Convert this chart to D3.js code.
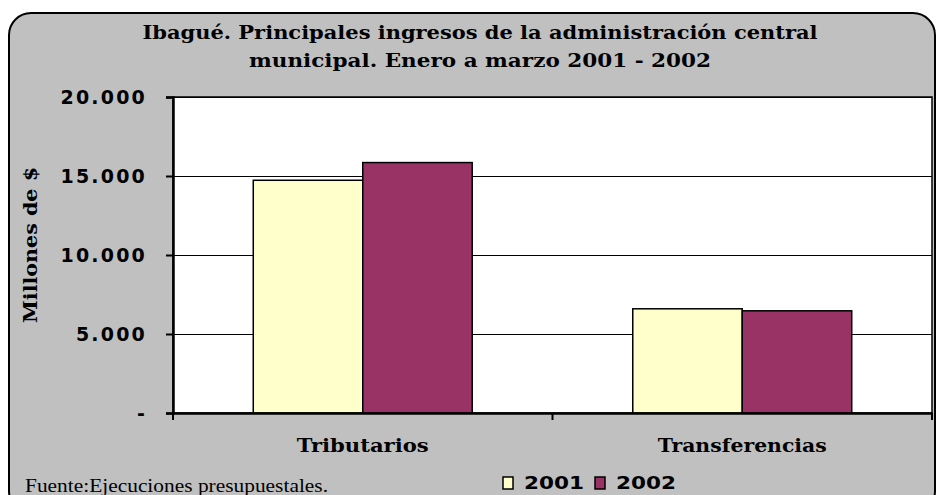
<!DOCTYPE html>
<html>
<head>
<meta charset="utf-8">
<script src="https://cdn.jsdelivr.net/npm/d3@7"></script>
<style>
  body { margin: 0; background: #fff; }
  svg { display: block; }
</style>
</head>
<body>
<div class="svg-container"></div>
<script>
// data
const categories = ["Tributarios", "Transferencias"];
const years = ["2001", "2002"];
const values2001 = [14730, 6595];
const values2002 = [15850, 6468];
const yTicks = [0, 5000, 10000, 15000, 20000];
const yTickLabels = ["-", "5.000", "10.000", "15.000", "20.000"];
const titleLines = ["Ibagué. Principales ingresos de la administración central",
                    "municipal. Enero a marzo 2001 - 2002"];
const yLabel = "Millones de $";
const sourceText = "Fuente:Ejecuciones presupuestales.";

const colors = {"2001": "#FFFFCC", "2002": "#993366"};
const w = 936, h = 495;
const plot = {left: 173, right: 932, top: 97, bottom: 413};

const svg = d3.select(".svg-container")
  .append("svg")
  .attr("width", w)
  .attr("height", h);

// chart background with rounded frame
svg.append("rect")
  .attr("x", 9).attr("y", 13)
  .attr("width", 926).attr("height", 500)
  .attr("rx", 22).attr("ry", 22)
  .attr("fill", "#c0c0c0")
  .attr("stroke", "#000")
  .attr("stroke-width", 2);

// scales
const yScale = d3.scaleLinear()
  .domain([0, 20000])
  .range([plot.bottom, plot.top]);

const x0 = d3.scaleBand()
  .domain(categories)
  .range([plot.left, plot.right])
  .padding(0);

const groupOffset = x0.bandwidth() * 0.2115;
const x1 = d3.scaleBand()
  .domain(years)
  .range([0, x0.bandwidth() * 0.577]);

// plot area
svg.append("rect")
  .attr("x", plot.left).attr("y", plot.top)
  .attr("width", plot.right - plot.left)
  .attr("height", plot.bottom - plot.top)
  .attr("fill", "#fff")
  .attr("stroke", "#000")
  .attr("stroke-width", 1.5);

// gridlines
svg.append("g")
  .selectAll("line")
  .data(yTicks.filter(d => d > 0))
  .enter()
  .append("line")
  .attr("x1", plot.left).attr("x2", plot.right)
  .attr("y1", d => Math.round(yScale(d)) + 0.5)
  .attr("y2", d => Math.round(yScale(d)) + 0.5)
  .attr("stroke", "#000")
  .attr("stroke-width", 1);

// bars
const rows = categories.map((c, i) => ({cat: c, vals: [
  {year: "2001", v: values2001[i]},
  {year: "2002", v: values2002[i]}
]}));

svg.append("g")
  .selectAll("g")
  .data(rows)
  .enter()
  .append("g")
  .attr("transform", d => "translate(" + (x0(d.cat) + groupOffset) + ",0)")
  .selectAll("rect")
  .data(d => d.vals)
  .enter()
  .append("rect")
  .attr("x", d => x1(d.year))
  .attr("y", d => yScale(d.v))
  .attr("width", x1.bandwidth())
  .attr("height", d => yScale(0) - yScale(d.v))
  .attr("fill", d => colors[d.year])
  .attr("stroke", "#000")
  .attr("stroke-width", 1.5);

// y axis
const yAxis = d3.axisLeft(yScale)
  .tickValues(yTicks)
  .tickFormat((d, i) => yTickLabels[i])
  .tickSize(7)
  .tickPadding(19);

const gy = svg.append("g")
  .attr("transform", "translate(" + plot.left + ",0)")
  .call(yAxis);
gy.select(".domain").attr("stroke", "#000").attr("stroke-width", 2.5);
gy.selectAll(".tick line").attr("stroke", "#000").attr("stroke-width", 2);
gy.selectAll(".tick text")
  .attr("fill", "#000")
  .attr("dy", "0.36em")
  .style("font-family", "'DejaVu Sans', sans-serif")
  .style("font-weight", "bold")
  .style("font-size", "19px")
  .style("letter-spacing", "2.2px");

// x axis
const xAxis = d3.axisBottom(x0).tickSize(0).tickFormat("");
const gx = svg.append("g")
  .attr("transform", "translate(0," + plot.bottom + ")")
  .call(xAxis);
gx.select(".domain").attr("stroke", "#000").attr("stroke-width", 2.5);

// category boundary ticks
gx.selectAll("line.cat-tick")
  .data([plot.left, x0(categories[1]), plot.right])
  .enter()
  .append("line")
  .attr("class", "cat-tick")
  .attr("x1", d => d).attr("x2", d => d)
  .attr("y1", 0).attr("y2", 7)
  .attr("stroke", "#000")
  .attr("stroke-width", 2);

const catWidths = [132, 169];
svg.append("g")
  .selectAll("text")
  .data(categories)
  .enter()
  .append("text")
  .attr("x", d => x0(d) + x0.bandwidth() / 2)
  .attr("y", 452)
  .attr("text-anchor", "middle")
  .attr("textLength", (d, i) => catWidths[i])
  .attr("lengthAdjust", "spacingAndGlyphs")
  .style("font-family", "'DejaVu Serif', serif")
  .style("font-weight", "bold")
  .style("font-size", "19px")
  .text(d => d);

// title
const titleWidths = [675, 462];
svg.append("g")
  .selectAll("text")
  .data(titleLines)
  .enter()
  .append("text")
  .attr("x", 480)
  .attr("y", (d, i) => 39 + i * 28)
  .attr("text-anchor", "middle")
  .attr("textLength", (d, i) => titleWidths[i])
  .attr("lengthAdjust", "spacingAndGlyphs")
  .style("font-family", "'DejaVu Serif', serif")
  .style("font-weight", "bold")
  .style("font-size", "19px")
  .text(d => d);

// y label
svg.append("text")
  .attr("transform", "translate(37,245) rotate(-90)")
  .attr("text-anchor", "middle")
  .attr("textLength", 156)
  .attr("lengthAdjust", "spacingAndGlyphs")
  .style("font-family", "'DejaVu Serif', serif")
  .style("font-weight", "bold")
  .style("font-size", "18px")
  .text(yLabel);

// source note
svg.append("text")
  .attr("x", 25)
  .attr("y", 492)
  .attr("textLength", 303)
  .attr("lengthAdjust", "spacingAndGlyphs")
  .style("font-family", "'Liberation Serif', serif")
  .style("font-size", "18px")
  .text(sourceText);

// legend
const legendX = [503, 595];
const legend = svg.append("g")
  .selectAll("g")
  .data(years)
  .enter()
  .append("g")
  .attr("transform", (d, i) => "translate(" + legendX[i] + ",477)");

legend.append("rect")
  .attr("width", 10).attr("height", 12)
  .attr("fill", d => colors[d])
  .attr("stroke", "#000")
  .attr("stroke-width", 1.5);

legend.append("text")
  .attr("x", 21)
  .attr("y", 12)
  .attr("textLength", 60)
  .attr("lengthAdjust", "spacingAndGlyphs")
  .style("font-family", "'DejaVu Sans', sans-serif")
  .style("font-weight", "bold")
  .style("font-size", "17px")
  .text(d => d);
</script>
</body>
</html>
